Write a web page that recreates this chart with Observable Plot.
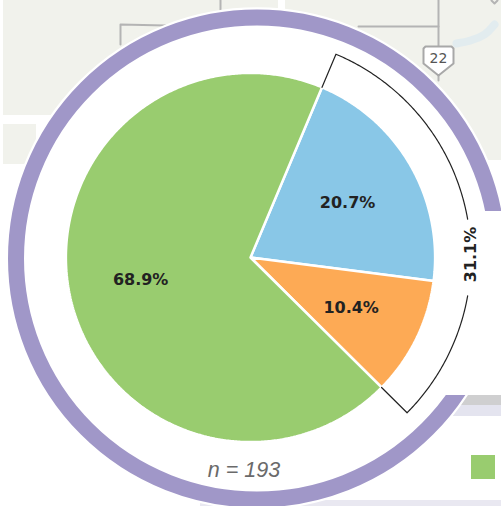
<!DOCTYPE html>
<html><head><meta charset="utf-8">
<script src="https://cdn.jsdelivr.net/npm/d3@7"></script>
<script src="https://cdn.jsdelivr.net/npm/@observablehq/plot@0.6"></script>
<style>html,body{margin:0;padding:0;background:#fff}svg{display:block}</style>
</head><body><div id="chart"></div>
<script>
const categories = ["Segment A", "Segment B", "Segment C"];
const shares = [20.7, 10.4, 68.9];
const colors = ["#89c7e7", "#fdaa55", "#99cc6f"];
const shareLabels = ["20.7%", "10.4%", "68.9%"];
const bracketLabel = "31.1%";
const sampleLabel = "n = 193";
const startAngle = 22.8;
const bracketShares = [20.7, 10.4];

const pie = {cx: 250, cy: 257, r: 184.6, labelR: 112};
const rad = a => (a - 90) * Math.PI / 180;
const polar = (r, a) => ({x: pie.cx + r * Math.cos(rad(a)), y: pie.cy + r * Math.sin(rad(a))});
const arc = (r, a0, a1) => {
  const n = Math.max(2, Math.ceil(Math.abs(a1 - a0) * 2)), out = [];
  for (let i = 0; i <= n; i++) out.push(polar(r, a0 + (a1 - a0) * i / n));
  return out;
};
let acc = startAngle;
const sliceInfo = categories.map((name, i) => {
  const a0 = acc, a1 = acc + shares[i] * 3.6; acc = a1;
  return {name, a0, a1, mid: (a0 + a1) / 2, label: shareLabels[i]};
});
const slicePts = sliceInfo.flatMap(s => [polar(0, 0), ...arc(pie.r, s.a0, s.a1), polar(0, 0)].map(p => ({...p, name: s.name})));
const labelPts = sliceInfo.map(s => ({...polar(pie.labelR, s.mid), label: s.label}));

const bracketEnd = startAngle + d3.sum(bracketShares) * 3.6;
const bR = 220.5, gapA0 = 80, gapA1 = 100;
const bracket = [
  {k: "a", pts: [polar(pie.r, startAngle), ...arc(bR, startAngle, gapA0)]},
  {k: "b", pts: [...arc(bR, gapA1, bracketEnd), polar(pie.r, bracketEnd)]}
].flatMap(g => g.pts.map(p => ({...p, k: g.k})));

// backdrop map pieces
const mapBlocks = [
  {x1: 3, x2: 501, y1: 0, y2: 115, f: "#f1f2ec"},
  {x1: 3, x2: 36, y1: 124, y2: 164, f: "#f1f2ec"},
  {x1: 285, x2: 501, y1: 115, y2: 160, f: "#f1f2ec"},
  {x1: 440, x2: 501, y1: 395, y2: 405, f: "#cfcfd0"},
  {x1: 440, x2: 501, y1: 405, y2: 416, f: "#e4e4ef"},
  {x1: 200, x2: 501, y1: 500, y2: 506, f: "#e9e8f1"},
  {x1: 278, x2: 285, y1: 0, y2: 12, f: "#ffffff"}
];
const roads = [
  {k: "r1", x: 120, y: 44}, {k: "r1", x: 120, y: 24}, {k: "r1", x: 165, y: 25},
  {k: "r2", x: 220, y: 0}, {k: "r2", x: 220, y: 10},
  {k: "r3", x: 358, y: 26}, {k: "r3", x: 438, y: 26},
  {k: "r4", x: 438, y: 0}, {k: "r4", x: 438, y: 46},
  {k: "r5", x: 438, y: 75}, {k: "r5", x: 438, y: 80},
  {k: "r6", x: 491, y: 0}, {k: "r6", x: 494, y: 3}, {k: "r6", x: 497, y: 0}
];
const water = [
  {x: 456, y: 43}, {x: 470, y: 40}, {x: 484, y: 34}, {x: 494, y: 24}
];
const shield = [
  {x: 423, y: 48}, {x: 425, y: 46}, {x: 451, y: 46}, {x: 453, y: 48},
  {x: 453, y: 63}, {x: 438, y: 75}, {x: 423, y: 63}, {x: 423, y: 48}
];

const chart = Plot.plot({
  width: 501, height: 506, margin: 0,
  x: {domain: [0, 501], range: [0, 501], axis: null},
  y: {domain: [0, 506], range: [0, 506], axis: null},
  color: {type: "ordinal", domain: categories, range: colors},
  style: {background: "#fff", overflow: "hidden"},
  marks: [
    Plot.rect(mapBlocks, {x1: "x1", x2: "x2", y1: "y1", y2: "y2", fill: d => d.f}),
    Plot.line(water, {x: "x", y: "y", stroke: "#e2ecef", strokeWidth: 8, curve: "catmull-rom"}),
    Plot.line(roads, {x: "x", y: "y", z: "k", stroke: "#b4b4b4", strokeWidth: 2}),
    Plot.line(shield, {x: "x", y: "y", fill: "#fff", stroke: "#a8a8a8", strokeWidth: 2}),
    Plot.text(["22"], {x: [438], y: [58], text: d => d, fontSize: 14, fill: "#555", fontFamily: "DejaVu Sans"}),
    Plot.rect([{}], {x1: [471], x2: [495], y1: [455], y2: [479], fill: [colors[2]]}),
    Plot.dot([{}], {x: [256.5], y: [258], r: 249, fill: "none", stroke: "#fff", strokeWidth: 4.5}),
    Plot.dot([{}], {x: [256.5], y: [258], r: 241, fill: "#fff", stroke: "#a097c8", strokeWidth: 16}),
    Plot.rect([{}], {x1: [445], x2: [501], y1: [211], y2: [395], fill: ["#fff"]}),
    Plot.line(slicePts, {x: "x", y: "y", z: "name", fill: "name", stroke: "#fff", strokeWidth: 2.5, strokeLinejoin: "miter"}),
    Plot.line(bracket, {x: "x", y: "y", z: "k", stroke: "#222", strokeWidth: 1.2}),
    Plot.text(labelPts, {x: "x", y: "y", dy: 1, text: "label", fontSize: 16, fontWeight: "bold", fill: "#222", fontFamily: "DejaVu Sans"}),
    Plot.text([bracketLabel], {x: [470], y: [254], text: d => d, rotate: -90, fontSize: 16, fontWeight: "bold", fill: "#222", fontFamily: "DejaVu Sans"}),
    Plot.text([sampleLabel], {x: [243.5], y: [470], text: d => d, fontSize: 21.5, fontStyle: "italic", fontWeight: 300, fill: "#6a6a6a", fontFamily: "Liberation Sans"})
  ]
});
document.getElementById("chart").append(chart);
</script></body></html>
